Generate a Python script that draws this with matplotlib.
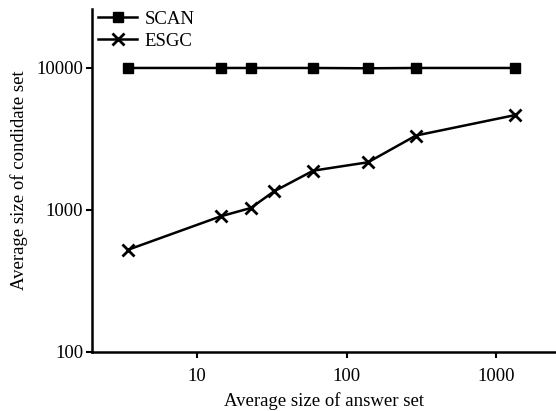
import matplotlib
matplotlib.use('Agg')
import matplotlib.pyplot as plt

# Average size of answer set (x) and candidate set sizes (y)
scan_x = [3.47, 14.4, 22.9, 59.8, 139, 290, 1330]
scan_y = [10000, 10000, 10000, 10000, 9950, 10000, 10000]

esgc_x = [3.47, 14.4, 22.9, 32.7, 59.8, 139, 290, 1330]
esgc_y = [525, 902, 1033, 1352, 1892, 2168, 3342, 4656]

plt.rcParams['font.family'] = ['Liberation Serif', 'DejaVu Serif']
plt.rcParams['font.size'] = 13.5

fig = plt.figure(figsize=(5.56, 4.11), dpi=100)
ax = fig.add_axes([0.166, 0.1436, 0.834, 0.8344])

ax.plot(scan_x, scan_y, color='black', lw=1.8, marker='s', ms=7, label='SCAN')
ax.plot(esgc_x, esgc_y, color='black', lw=1.8, marker='x', ms=8, mew=2, label='ESGC')

ax.set_xscale('log')
ax.set_yscale('log')
ax.set_xlim(2, 2500)
ax.set_ylim(100, 26000)
ax.set_xticks([10, 100, 1000])
ax.set_xticklabels(['10', '100', '1000'])
ax.set_yticks([100, 1000, 10000])
ax.set_yticklabels(['100', '1000', '10000'])
ax.minorticks_off()

for s in ['top', 'right']:
    ax.spines[s].set_visible(False)
for s in ['left', 'bottom']:
    ax.spines[s].set_linewidth(1.8)
ax.tick_params(direction='out', length=4.5, width=1.5)
ax.tick_params(axis='x', pad=7)
ax.tick_params(axis='y', pad=2)

ax.set_xlabel('Average size of answer set', labelpad=5)
ax.set_ylabel('Average size of condidate set', labelpad=6)

ax.legend(loc='upper left', frameon=False, handlelength=2.1, handletextpad=0.4,
          borderaxespad=0.0, borderpad=0.1, labelspacing=0.25,
          bbox_to_anchor=(0.008, 1.0))

fig.savefig('out.png', dpi=100)
